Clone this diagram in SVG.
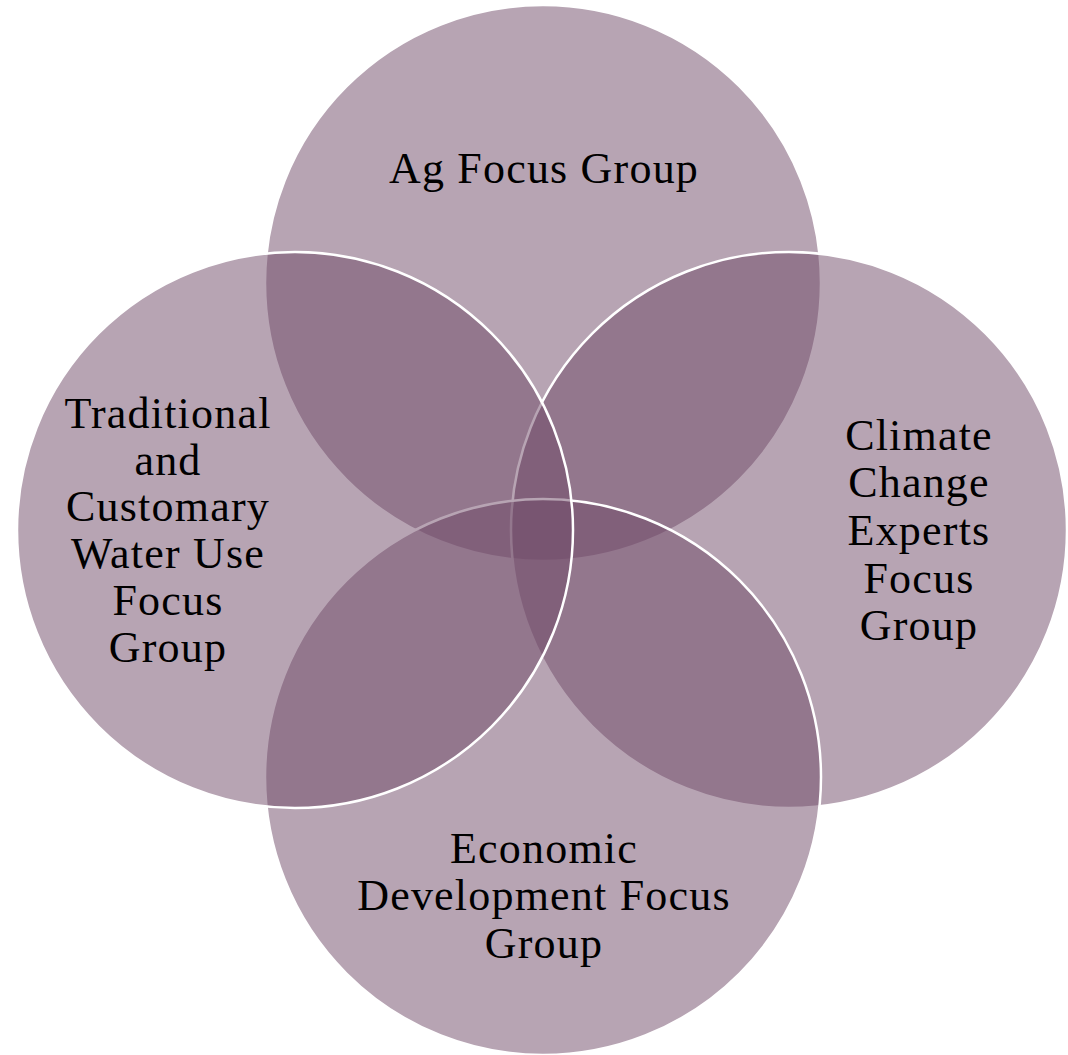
<svg xmlns="http://www.w3.org/2000/svg" width="1068" height="1055" viewBox="0 0 1068 1055">
  <style>
    .c { fill: #6f4a67; fill-opacity: 0.5; stroke: #ffffff; stroke-width: 2.5; }
    .t { font-family: "Liberation Serif", "Times New Roman", serif; font-size: 44px; letter-spacing: 1.2px; fill: #000000; text-anchor: middle; }
  </style>
  <rect x="0" y="0" width="1068" height="1055" fill="#ffffff"/>
  <g id="top">
    <circle class="c" cx="543" cy="283" r="278"/>
  </g>
  <g id="right">
    <circle class="c" cx="789" cy="530" r="278"/>
  </g>
  <g id="bottom">
    <circle class="c" cx="543" cy="777" r="278"/>
  </g>
  <g id="left">
    <circle class="c" cx="295" cy="530" r="278"/>
  </g>
  <g id="labels">
    <text class="t" x="544" y="183">Ag Focus Group</text>
    <text class="t" x="168" y="428">Traditional</text>
    <text class="t" x="168" y="475">and</text>
    <text class="t" x="168" y="521">Customary</text>
    <text class="t" x="168" y="568">Water Use</text>
    <text class="t" x="168" y="615">Focus</text>
    <text class="t" x="168" y="662">Group</text>
    <text class="t" x="919" y="450">Climate</text>
    <text class="t" x="919" y="497">Change</text>
    <text class="t" x="919" y="545">Experts</text>
    <text class="t" x="919" y="593">Focus</text>
    <text class="t" x="919" y="640">Group</text>
    <text class="t" x="544" y="863">Economic</text>
    <text class="t" x="544" y="910">Development Focus</text>
    <text class="t" x="544" y="958">Group</text>
  </g>
</svg>
